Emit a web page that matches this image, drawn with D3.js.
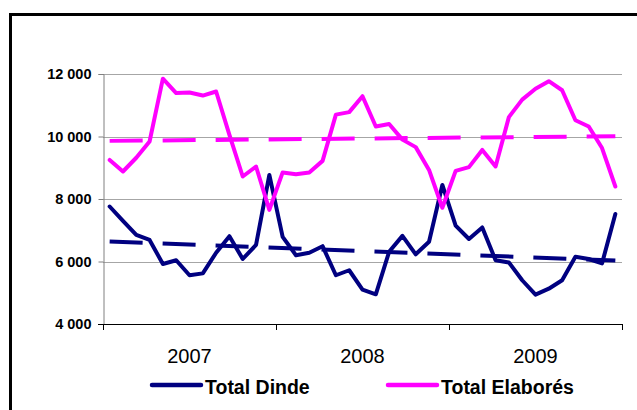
<!DOCTYPE html>
<html><head><meta charset="utf-8">
<script src="https://cdn.jsdelivr.net/npm/d3@7"></script>
<style>
html,body{margin:0;padding:0;background:#fff;}
svg{display:block;font-family:"Liberation Sans",Arial,sans-serif;}
</style></head>
<body>
<svg id="chart" width="637" height="410"></svg>
<script>
// ---- data (13 four-week periods per year) ----
const years = ["2007", "2008", "2009"];
const categories = [
  "2007-P01","2007-P02","2007-P03","2007-P04","2007-P05","2007-P06","2007-P07","2007-P08","2007-P09","2007-P10","2007-P11","2007-P12","2007-P13",
  "2008-P01","2008-P02","2008-P03","2008-P04","2008-P05","2008-P06","2008-P07","2008-P08","2008-P09","2008-P10","2008-P11","2008-P12","2008-P13",
  "2009-P01","2009-P02","2009-P03","2009-P04","2009-P05","2009-P06","2009-P07","2009-P08","2009-P09","2009-P10","2009-P11","2009-P12","2009-P13"
];
const totalDinde = [
  7760, 7300, 6850, 6690, 5920, 6040, 5560, 5620, 6280, 6810, 6080, 6530, 8770,
  6790, 6200, 6280, 6490, 5560, 5720, 5100, 4950, 6310, 6820, 6230, 6630, 8450,
  7150, 6720, 7090, 6040, 5970, 5400, 4940, 5130, 5400, 6150, 6080, 5940, 7520
];
const totalElabores = [
  9250, 8880, 9320, 9840, 11850, 11390, 11410, 11310, 11440, 10050, 8720, 9040, 7650,
  8850, 8790, 8850, 9220, 10700, 10780, 11290, 10320, 10400, 9900, 9660, 8930, 7720,
  8900, 9020, 9570, 9040, 10620, 11180, 11530, 11770, 11480, 10520, 10320, 9630, 8400
];
// linear trend lines: [value at first period, value at last period]
const trendDinde = [6640, 6030];
const trendElabores = [9860, 10010];
const yTicks = [4000, 6000, 8000, 10000, 12000];
const seriesNames = ["Total Dinde", "Total Elaborés"];

// ---- layout ----
const svg = d3.select("#chart");
const pLeft = 103, pRight = 622, pTop = 74, pBottom = 324;
const colDinde = "#000080", colElab = "#FF00FF";

// frame
svg.append("rect").attr("x", 10.5).attr("y", 14.5).attr("width", 700).attr("height", 500)
  .attr("fill", "none").attr("stroke", "#000").attr("stroke-width", 3);

const x = d3.scaleBand().domain(categories).range([pLeft, pRight]);
const xc = c => x(c) + x.bandwidth() / 2;
const xYear = d3.scaleBand().domain(years).range([pLeft, pRight]);
const y = d3.scaleLinear().domain([4000, 12000]).range([pBottom, pTop]);

// gridlines
svg.append("g").selectAll("line").data(yTicks.filter(d => d > 4000)).join("line")
  .attr("x1", pLeft).attr("x2", pRight)
  .attr("y1", d => Math.round(y(d)) + 0.5).attr("y2", d => Math.round(y(d)) + 0.5)
  .attr("stroke", "#a6a6a6").attr("stroke-width", 1);

// y axis
const fmt = d3.formatLocale({decimal: ",", thousands: " ", grouping: [3], currency: ["", "€"]}).format(",");
const yAxis = svg.append("g").attr("transform", `translate(${pLeft + 0.5},0)`)
  .call(d3.axisLeft(y).tickValues(yTicks).tickSize(5).tickPadding(7).tickFormat(fmt));
yAxis.select(".domain").attr("stroke", "#808080");
yAxis.selectAll(".tick line").attr("stroke", "#808080");
yAxis.selectAll("text").attr("font-size", 14.5).attr("font-weight", "bold")
  .attr("fill", "#000").style("font-family", "Liberation Sans, Arial, sans-serif");

// x axis (years)
const xAxis = svg.append("g").attr("transform", `translate(0,${pBottom + 0.5})`)
  .call(d3.axisBottom(xYear).tickSize(0).tickPadding(24));
xAxis.select(".domain").remove();
xAxis.selectAll("text").attr("font-size", 20).attr("fill", "#000")
  .style("font-family", "Liberation Sans, Arial, sans-serif");
svg.append("line").attr("x1", pLeft - 5).attr("x2", pRight).attr("y1", pBottom + 0.5).attr("y2", pBottom + 0.5)
  .attr("stroke", "#000").attr("stroke-width", 1);
const bounds = years.map(d => xYear(d)).concat([xYear(years[years.length - 1]) + xYear.bandwidth()]);
svg.append("g").selectAll("line").data(bounds).join("line")
  .attr("x1", d => Math.round(d) + 0.5).attr("x2", d => Math.round(d) + 0.5)
  .attr("y1", pBottom).attr("y2", pBottom + 6).attr("stroke", "#000");

// series
const line = d3.line().x((d, i) => xc(categories[i])).y(d => y(d));
svg.append("path").datum(totalDinde).attr("d", line).attr("fill", "none")
  .attr("stroke", colDinde).attr("stroke-width", 4).attr("stroke-linejoin", "round").attr("stroke-linecap", "round");
svg.append("path").datum(totalElabores).attr("d", line).attr("fill", "none")
  .attr("stroke", colElab).attr("stroke-width", 4).attr("stroke-linejoin", "round").attr("stroke-linecap", "round");

// trend lines
const tline = d3.line().x((d, i) => i === 0 ? xc(categories[0]) : xc(categories[categories.length - 1])).y(d => y(d));
svg.append("path").datum(trendDinde).attr("d", tline).attr("fill", "none")
  .attr("stroke", colDinde).attr("stroke-width", 4).attr("stroke-dasharray", "33,20");
svg.append("path").datum(trendElabores).attr("d", tline).attr("fill", "none")
  .attr("stroke", colElab).attr("stroke-width", 4).attr("stroke-dasharray", "33,20");

// legend
const legendX = [152, 388];
const legendCols = [colDinde, colElab];
const lg = svg.append("g").selectAll("g").data(seriesNames).join("g");
lg.append("line").attr("x1", (d, i) => legendX[i]).attr("x2", (d, i) => legendX[i] + 49)
  .attr("y1", 385).attr("y2", 385).attr("stroke", (d, i) => legendCols[i])
  .attr("stroke-width", 4.5).attr("stroke-linecap", "round");
lg.append("text").attr("x", (d, i) => legendX[i] + 53).attr("y", 394)
  .attr("font-size", 19.5).attr("font-weight", "bold").attr("fill", "#000").text(d => d);
</script>
</body></html>
